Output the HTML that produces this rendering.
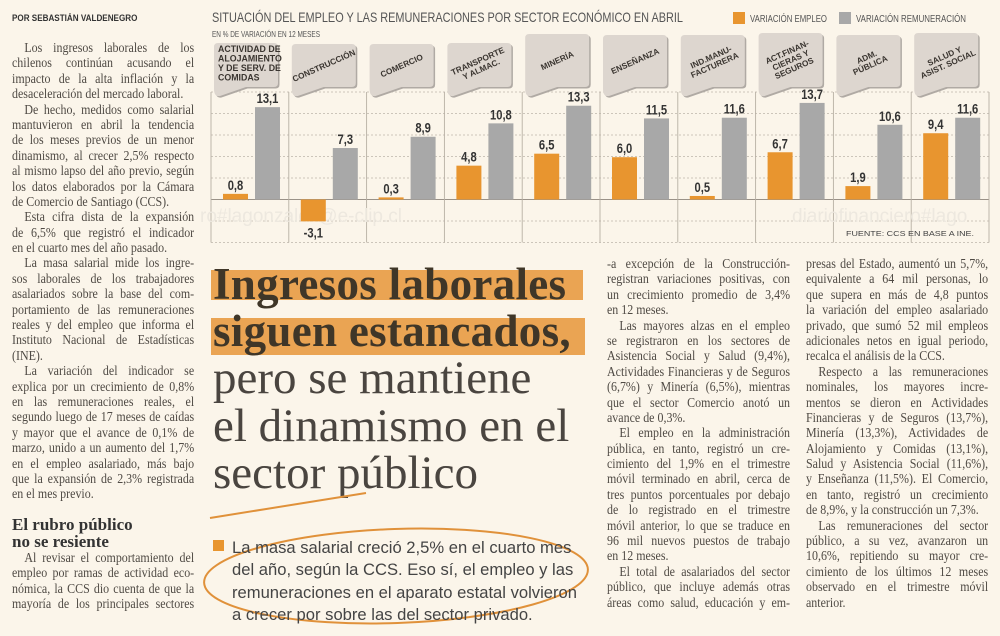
<!DOCTYPE html>
<html><head><meta charset="utf-8">
<style>
html,body{margin:0;padding:0;}
body{width:1000px;height:636px;background:#fbf5ea;position:relative;overflow:hidden;font-family:"Liberation Serif",serif;color:#555;}
.col{position:absolute;transform:scaleX(0.88);transform-origin:0 0;font-size:13.6px;line-height:15.4px;color:#4f4a44;}
.col div{white-space:nowrap;text-align:justify;text-align-last:justify;height:15.4px;}
.col div.e{text-align-last:left;}
.col div.i{text-indent:14px;}
.byline{position:absolute;left:12px;top:13px;font:bold 9px "Liberation Sans",sans-serif;color:#333;transform:scaleX(0.9);transform-origin:0 0;}
.hl{position:absolute;left:211px;background:#eaa453;height:30px;}
.head{position:absolute;left:213px;font-size:45px;color:#3f3628;white-space:nowrap;line-height:47px;}
.sub{position:absolute;left:232px;top:537px;font:16.6px/22.3px "Liberation Sans",sans-serif;color:#444;white-space:nowrap;}
.h2{position:absolute;left:12px;top:517px;font:bold 17px/16.5px "Liberation Serif",serif;color:#333;}
</style></head><body>
<div class="byline">POR SEBASTIÁN VALDENEGRO</div>

<svg id="chart" width="1000" height="250" style="position:absolute;left:0;top:0"></svg>

<div class="col" style="left:12px;top:40px;width:207px">
<div class="i">Los ingresos laborales de los</div>
<div>chilenos continúan acusando el</div>
<div>impacto de la alta inflación y la</div>
<div class="e">desaceleración del mercado laboral.</div>
<div class="i">De hecho, medidos como salarial</div>
<div>mantuvieron en abril la tendencia</div>
<div>de los meses previos de un menor</div>
<div>dinamismo, al crecer 2,5% respecto</div>
<div>al mismo lapso del año previo, según</div>
<div>los datos elaborados por la Cámara</div>
<div class="e">de Comercio de Santiago (CCS).</div>
<div class="i">Esta cifra dista de la expansión</div>
<div>de 6,5% que registró el indicador</div>
<div class="e">en el cuarto mes del año pasado.</div>
<div class="i">La masa salarial mide los ingre-</div>
<div>sos laborales de los trabajadores</div>
<div>asalariados sobre la base del com-</div>
<div>portamiento de las remuneraciones</div>
<div>reales y del empleo que informa el</div>
<div>Instituto Nacional de Estadísticas</div>
<div class="e">(INE).</div>
<div class="i">La variación del indicador se</div>
<div>explica por un crecimiento de 0,8%</div>
<div>en las remuneraciones reales, el</div>
<div>segundo luego de 17 meses de caídas</div>
<div>y mayor que el avance de 0,1% de</div>
<div>marzo, unido a un aumento del 1,7%</div>
<div>en el empleo asalariado, más bajo</div>
<div>que la expansión de 2,3% registrada</div>
<div class="e">en el mes previo.</div>
</div>
<div class="h2">El rubro público<br>no se resiente</div>
<div class="col" style="left:12px;top:550px;width:207px;line-height:15px">
<div class="i">Al revisar el comportamiento del</div>
<div>empleo por ramas de actividad eco-</div>
<div>nómica, la CCS dio cuenta de que la</div>
<div>mayoría de los principales sectores</div>
</div>

<div class="hl" style="top:270px;width:372px"></div>
<div class="hl" style="top:318px;width:374px;height:37px"></div>
<div class="head" style="top:261px;font-weight:bold;letter-spacing:0.3px">Ingresos laborales<br>siguen estancados,</div>
<div class="head" style="top:355px;font-size:47px;line-height:47.5px;color:#4a4540">pero se mantiene<br>el dinamismo en el<br>sector público</div>

<svg width="1000" height="636" style="position:absolute;left:0;top:0">
<path d="M210,518 Q290,505 366,493" stroke="#e0913a" stroke-width="2" fill="none"/>
<ellipse cx="396" cy="576" rx="192" ry="47" transform="rotate(-2 396 576)" stroke="#e0913a" stroke-width="2" fill="none"/>
<rect x="213" y="540" width="11" height="11" fill="#e8952f"/>
</svg>
<div class="sub">La masa salarial creció 2,5% en el cuarto mes<br>del año, según la CCS. Eso sí, el empleo y las<br>remuneraciones en el aparato estatal volvieron<br>a crecer por sobre las del sector privado.</div>

<div class="col" style="left:607px;top:256px;width:208px;line-height:15.55px">
<div>-a excepción de la Construcción-</div>
<div>registran variaciones positivas, con</div>
<div>un crecimiento promedio de 3,4%</div>
<div class="e">en 12 meses.</div>
<div class="i">Las mayores alzas en el empleo</div>
<div>se registraron en los sectores de</div>
<div>Asistencia Social y Salud (9,4%),</div>
<div>Actividades Financieras y de Seguros</div>
<div>(6,7%) y Minería (6,5%), mientras</div>
<div>que el sector Comercio anotó un</div>
<div class="e">avance de 0,3%.</div>
<div class="i">El empleo en la administración</div>
<div>pública, en tanto, registró un cre-</div>
<div>cimiento del 1,9% en el trimestre</div>
<div>móvil terminado en abril, cerca de</div>
<div>tres puntos porcentuales por debajo</div>
<div>de lo registrado en el trimestre</div>
<div>móvil anterior, lo que se traduce en</div>
<div>96 mil nuevos puestos de trabajo</div>
<div class="e">en 12 meses.</div>
<div class="i">El total de asalariados del sector</div>
<div>público, que incluye además otras</div>
<div>áreas como salud, educación y em-</div>
</div>
<div class="col" style="left:806px;top:256px;width:207px;line-height:15.1px">
<div>presas del Estado, aumentó un 5,7%,</div>
<div>equivalente a 64 mil personas, lo</div>
<div>que supera en más de 4,8 puntos</div>
<div>la variación del empleo asalariado</div>
<div>privado, que sumó 52 mil empleos</div>
<div>adicionales netos en igual periodo,</div>
<div class="e">recalca el análisis de la CCS.</div>
<div class="i">Respecto a las remuneraciones</div>
<div>nominales, los mayores incre-</div>
<div>mentos se dieron en Actividades</div>
<div>Financieras y de Seguros (13,7%),</div>
<div>Minería (13,3%), Actividades de</div>
<div>Alojamiento y Comidas (13,1%),</div>
<div>Salud y Asistencia Social (11,6%),</div>
<div>y Enseñanza (11,5%). El Comercio,</div>
<div>en tanto, registró un crecimiento</div>
<div class="e">de 8,9%, y la construcción un 7,3%.</div>
<div class="i">Las remuneraciones del sector</div>
<div>público, a su vez, avanzaron un</div>
<div>10,6%, repitiendo su mayor cre-</div>
<div>cimiento de los últimos 12 meses</div>
<div>observado en el trimestre móvil</div>
<div class="e">anterior.</div>
</div>

<script>
const categories = [["ACTIVIDAD DE","ALOJAMIENTO","Y DE SERV. DE","COMIDAS"],["CONSTRUCCIÓN"],["COMERCIO"],["TRANSPORTE","Y ALMAC."],["MINERÍA"],["ENSEÑANZA"],["IND.MANU-","FACTURERA"],["ACT.FINAN-","CIERAS Y","SEGUROS"],["ADM.","PÚBLICA"],["SALUD Y","ASIST. SOCIAL"]];
const empleo = [0.8,-3.1,0.3,4.8,6.5,6.0,0.5,6.7,1.9,9.4];
const remuneracion = [13.1,7.3,8.9,10.8,13.3,11.5,11.6,13.7,10.6,11.6];
const gridSteps = [-2,-1,1,2,3,4,5];

const NS="http://www.w3.org/2000/svg";
const svg=document.getElementById('chart');
const X0=211, COLW=77.8, ZERO=199.5, PXU=7.05, GRID=21.5;
const y=v=>ZERO-v*PXU;
const colX=i=>X0+i*COLW;
function mk(tag,attrs,parent){const e=document.createElementNS(NS,tag);for(const k in attrs)e.setAttribute(k,attrs[k]);(parent||svg).appendChild(e);return e;}
const cond='"Liberation Sans Narrow","Liberation Sans",sans-serif';

let t=mk('text',{x:212,y:22,'font-family':cond,'font-size':14,fill:'#555',textLength:471,lengthAdjust:'spacingAndGlyphs'});


t.textContent='SITUACIÓN DEL EMPLEO Y LAS REMUNERACIONES POR SECTOR ECONÓMICO EN ABRIL';
t=mk('text',{x:212,y:37,'font-family':cond,'font-size':8.5,fill:'#555',textLength:108,lengthAdjust:'spacingAndGlyphs'});


t.textContent='EN % DE VARIACIÓN EN 12 MESES';
let r=mk('rect',{x:733,y:12,width:12,height:12,fill:'#e8952f'});


t=mk('text',{x:750,y:22,'font-family':cond,'font-size':10,fill:'#555',textLength:77,lengthAdjust:'spacingAndGlyphs'});


t.textContent='VARIACIÓN EMPLEO';
r=mk('rect',{x:839,y:12,width:12,height:12,fill:'#a8a8a8'});


t=mk('text',{x:856,y:22,'font-family':cond,'font-size':10,fill:'#555',textLength:110,lengthAdjust:'spacingAndGlyphs'});


t.textContent='VARIACIÓN REMUNERACIÓN';

gridSteps.forEach(k=>{
  const gy=ZERO-k*GRID;
  const l=mk('line',{x1:X0,x2:X0+10*COLW,y1:gy,y2:gy,stroke:'#bdb5aa','stroke-width':0.8,'stroke-dasharray':'2,2'});
  
  
});
let zl=mk('line',{x1:X0,x2:X0+10*COLW,y1:ZERO,y2:ZERO,stroke:'#9a9288','stroke-width':1});


for(let i=0;i<=10;i++){
  const d=mk('line',{x1:colX(i),x2:colX(i),y1:ZERO-5*GRID,y2:ZERO+2*GRID,stroke:'#b7afa4','stroke-width':0.9});
  
  
}
t=mk('text',{x:200,y:222,'font-family':'"Liberation Sans",sans-serif','font-size':19,fill:'#ede8df'});


t.textContent='ro#lagonzalek@e-clip.cl';
t=mk('text',{x:792,y:222,'font-family':'"Liberation Sans",sans-serif','font-size':19,fill:'#ede8df'});


t.textContent='diariofinanciero#lago';

const tagTops=[43,44,44,43,34,35,35,33,35,33];
categories.forEach((lines,i)=>{
  const cx=colX(i), x0=cx+3, x1=cx+67, tp=tagTops[i], bt=87;
  const g=mk('g',{});
  
  
  const d=`M${x0+4},${tp} H${x1-4} Q${x1},${tp} ${x1},${tp+4} V${bt-4} Q${x1},${bt} ${x1-4},${bt} H${x0+32} L${x0+6},${bt+9} Q${x0},${bt+10} ${x0},${bt+2} V${tp+4} Q${x0},${tp} ${x0+4},${tp} Z`;
  mk('path',{d,fill:'#b0aaa4',transform:'translate(1.5,1.5)'},g);
  mk('path',{d,fill:'#ddd6cf'},g);
  const rot=i===0?0:-24;
  const mx=(x0+x1)/2, my=(tp+bt)/2;
  const n=lines.length;
  lines.forEach((s,j)=>{
    const tx=mk('text',{x:i===0?x0+4:mx,y:i===0?tp+9+j*9.5:my+3+(j-(n-1)/2)*8.8,'text-anchor':i===0?'start':'middle','font-family':cond,'font-size':i===0?8.8:8.3,'font-weight':'bold',fill:'#3a3530',transform:`rotate(${rot} ${mx} ${my})`},g);
    tx.textContent=s;
  });
  const ve=empleo[i], vr=remuneracion[i];
  const be=mk('rect',{x:cx+12,y:Math.min(y(ve),ZERO),width:25,height:Math.abs(y(ve)-ZERO),fill:'#e8952f'});
  
  
  const br=mk('rect',{x:cx+44,y:Math.min(y(vr),ZERO),width:25,height:Math.abs(y(vr)-ZERO),fill:'#a8a8a8'});
  
  
  const fmt=v=>v.toFixed(1).replace('.',',');
  const le=mk('text',{x:cx+24.5,y:ve>=0?y(ve)-4:y(ve)+16,'text-anchor':'middle','font-family':cond,'font-size':14,'font-weight':'bold',fill:'#333',transform:`translate(${cx+24.5} 0) scale(0.8 1) translate(${-(cx+24.5)} 0)`});
  
  
  le.textContent=fmt(ve);
  const lr=mk('text',{x:cx+56.5,y:y(vr)-4,'text-anchor':'middle','font-family':cond,'font-size':14,'font-weight':'bold',fill:'#333',transform:`translate(${cx+56.5} 0) scale(0.8 1) translate(${-(cx+56.5)} 0)`});
  
  
  lr.textContent=fmt(vr);
});
t=mk('text',{x:846,y:236,'font-family':cond,'font-size':7.5,fill:'#444',textLength:128,lengthAdjust:'spacingAndGlyphs'});


t.textContent='FUENTE: CCS EN BASE A INE.';
</script>
</body></html>
